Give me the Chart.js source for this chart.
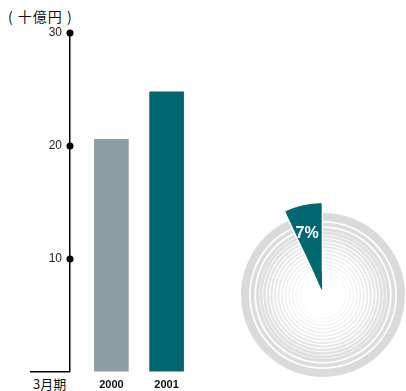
<!DOCTYPE html>
<html>
<head>
<meta charset="utf-8">
<script src="https://cdn.jsdelivr.net/npm/chart.js@4.4.1/dist/chart.umd.min.js"></script>
<style>
  html, body { margin: 0; padding: 0; background: #fff; overflow: hidden; width: 406px; height: 391px; }
  #wrap { position: relative; width: 406px; height: 391px; }
  .unit { position: absolute; left: 8px; top: 8px; font: 14px "Noto Sans CJK JP", sans-serif; letter-spacing: 1px; color: #111; white-space: pre; line-height: 16px; }
  .period { position: absolute; left: 33px; top: 377px; font: 13px "Noto Sans CJK JP", sans-serif; color: #111; white-space: nowrap; line-height: 14px; }
  #bars { position: absolute; left: 0; top: 0; }
  #share { position: absolute; left: 228px; top: 200px; }
</style>
</head>
<body>
<div id="wrap">
  <div class="unit">( 十億円 )</div>
  <div class="period">3月期</div>
  <canvas id="bars" width="208" height="391"></canvas>
  <canvas id="share" width="190" height="190"></canvas>
</div>
<script>
// Fiscal years (March year-end) and values in billions of yen
const categories = ['2000', '2001'];
const values = [20.6, 24.8];
const yTickValues = [0, 10, 20, 30];
// Share shown in the ring graphic (percent)
const sharePercent = 7;

const BAR_COLORS = ['#8c9ea3', '#00666f'];
const TEAL = '#00666f';
const FONT = '"Liberation Sans", Arial, sans-serif';

// Dots on the value axis at each labelled tick
const axisDots = {
  id: 'axisDots',
  afterDraw(chart) {
    const y = chart.scales.y;
    const ctx = chart.ctx;
    ctx.save();
    ctx.fillStyle = '#000';
    y.ticks.forEach(t => {
      if (t.value === 0) return;
      ctx.beginPath();
      ctx.arc(chart.chartArea.left, y.getPixelForValue(t.value), 3.5, 0, Math.PI * 2);
      ctx.fill();
    });
    ctx.restore();
  }
};

new Chart(document.getElementById('bars'), {
  type: 'bar',
  data: {
    datasets: [{
      data: categories.map((c, i) => ({ x: Number(c), y: values[i] })),
      backgroundColor: BAR_COLORS,
      barThickness: 34,
      borderWidth: 0
    }]
  },
  options: {
    responsive: false,
    animation: false,
    events: [],
    layout: { padding: { top: 33, left: 0, right: 0, bottom: 0 } },
    plugins: { legend: { display: false }, tooltip: { enabled: false } },
    scales: {
      x: {
        type: 'linear',
        min: Number(categories[0]) - 0.75,
        max: Number(categories[categories.length - 1]) + 0.75,
        offset: false,
        grid: { display: false, drawTicks: false },
        border: { display: false },
        afterBuildTicks(scale) { scale.ticks = categories.map(c => ({ value: Number(c) })); },
        afterFit(scale) { scale.height = 19; },
        ticks: {
          padding: 6,
          color: '#111',
          font: { family: FONT, size: 11, weight: 'bold' },
          callback: v => String(v)
        }
      },
      y: {
        min: 0,
        max: 30,
        afterBuildTicks(scale) { scale.ticks = yTickValues.map(v => ({ value: v })); },
        afterFit(scale) { scale.width = 70; },
        border: { display: true, color: '#000', width: 1.5 },
        grid: {
          drawOnChartArea: false,
          drawTicks: true,
          tickLength: 40,
          lineWidth: 1.5,
          color: ctx => (ctx.tick && ctx.tick.value === 0) ? '#000' : 'rgba(0,0,0,0)'
        },
        ticks: {
          padding: -32,
          color: '#222',
          font: { family: FONT, size: 12 },
          callback: v => v === 0 ? '' : String(v)
        }
      }
    }
  },
  plugins: [axisDots]
});

// Concentric rings: thick outer band, then thinner, fading bands toward the centre
const OUTER_R = 82;
const INNER_R = 20;
const rings = [];
let r = OUTER_R;
let i = 0;
while (r > INNER_R + 1) {
  const thick = i === 0 ? 8 : Math.max(0.9, 3.6 * Math.pow(0.9, i - 1));
  const period = i === 0 ? 9.7 : (i === 1 ? 5.3 : 3.6);
  rings.push({ thick, gap: period - thick });
  r -= period;
  i++;
}
const shareData = [sharePercent, 100 - sharePercent];
const datasets = [];
rings.forEach((b, k) => {
  const shade = Math.round(218 + (246 - 218) * k / Math.max(1, rings.length - 1));
  const grey = `rgb(${shade},${shade},${shade})`;
  datasets.push({
    data: shareData, weight: b.thick,
    backgroundColor: [TEAL, grey], borderColor: [TEAL, grey], borderWidth: [1, 0],
    offset: [24, 0], hoverOffset: 0
  });
  datasets.push({
    data: shareData, weight: b.gap,
    backgroundColor: [TEAL, 'rgba(255,255,255,0)'], borderColor: [TEAL, 'rgba(255,255,255,0)'], borderWidth: [1, 0],
    offset: [24, 0], hoverOffset: 0
  });
});
const usedR = rings.reduce((s, b) => s + b.thick + b.gap, 0);
datasets.push({
  data: shareData, weight: OUTER_R - usedR,
  backgroundColor: [TEAL, 'rgba(255,255,255,0)'], borderColor: [TEAL, 'rgba(255,255,255,0)'], borderWidth: [1, 0],
  offset: [24, 0], hoverOffset: 0
});

// Percentage label inside the highlighted slice
const shareLabel = {
  id: 'shareLabel',
  afterDatasetsDraw(chart) {
    const arc = chart.getDatasetMeta(0).data[0];
    const { x, y, startAngle, endAngle, outerRadius } = arc.getProps(['x', 'y', 'startAngle', 'endAngle', 'outerRadius'], true);
    const mid = (startAngle + endAngle) / 2;
    const shift = (arc.options.offset || 0) / 4;
    const rr = outerRadius * 0.7 + shift;
    const ctx = chart.ctx;
    ctx.save();
    ctx.fillStyle = '#fff';
    ctx.font = 'bold 16px ' + FONT;
    ctx.textAlign = 'center';
    ctx.textBaseline = 'middle';
    ctx.fillText(sharePercent + '%', x + Math.cos(mid) * rr - 2, y + Math.sin(mid) * rr);
    ctx.restore();
  }
};

new Chart(document.getElementById('share'), {
  type: 'doughnut',
  data: { labels: ['share', 'other'], datasets },
  options: {
    responsive: false,
    animation: false,
    events: [],
    cutout: 0,
    radius: OUTER_R,
    rotation: -sharePercent / 100 * 360,
    layout: { padding: 0 },
    plugins: { legend: { display: false }, tooltip: { enabled: false } }
  },
  plugins: [shareLabel]
});
</script>
</body>
</html>
